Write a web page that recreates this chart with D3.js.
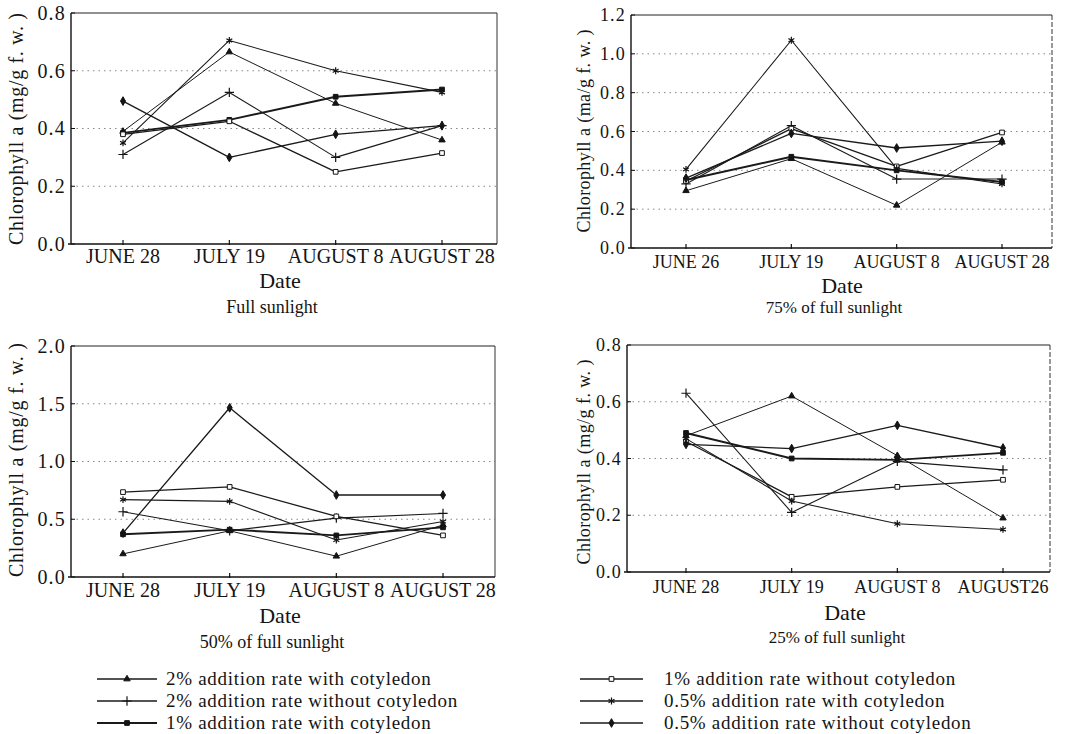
<!DOCTYPE html>
<html>
<head>
<meta charset="utf-8">
<script src="https://cdn.jsdelivr.net/npm/d3@7"></script>
<style>
  body { margin: 0; background: #fff; }
  svg { display: block; background: #fff; }
  text { font-family: "Liberation Serif", "Times New Roman", serif; fill: #141414; }
</style>
</head>
<body>
<svg id="chart" width="1083" height="734"></svg>
<script>
// ---- data -------------------------------------------------------------
const seriesLabels = [
  "2% addition rate with cotyledon",
  "2% addition rate without cotyledon",
  "1% addition rate with cotyledon",
  "1% addition rate without cotyledon",
  "0.5% addition rate with cotyledon",
  "0.5% addition rate without cotyledon"
];

const datesFull = ["JUNE 28", "JULY 19", "AUGUST 8", "AUGUST 28"];
const dates75   = ["JUNE 26", "JULY 19", "AUGUST 8", "AUGUST 28"];
const dates50   = ["JUNE 28", "JULY 19", "AUGUST 8", "AUGUST 28"];
const dates25   = ["JUNE 28", "JULY 19", "AUGUST 8", "AUGUST26"];

// chlorophyll a (mg/g f.w.), one row per treatment, in seriesLabels order
const fullSunValues = [
  [0.39, 0.665, 0.487, 0.36],
  [0.31, 0.525, 0.30, 0.41],
  [0.385, 0.43, 0.51, 0.535],
  [0.38, 0.425, 0.25, 0.315],
  [0.35, 0.705, 0.60, 0.525],
  [0.495, 0.30, 0.38, 0.41]
];
const sun75Values = [
  [0.295, 0.46, 0.22, 0.545],
  [0.33, 0.63, 0.355, 0.355],
  [0.35, 0.47, 0.40, 0.34],
  [0.345, 0.615, 0.42, 0.595],
  [0.405, 1.07, 0.41, 0.33],
  [0.36, 0.59, 0.515, 0.55]
];
const sun50Values = [
  [0.20, 0.40, 0.18, 0.45],
  [0.565, 0.40, 0.51, 0.55],
  [0.37, 0.41, 0.36, 0.43],
  [0.735, 0.78, 0.525, 0.36],
  [0.67, 0.655, 0.32, 0.48],
  [0.38, 1.465, 0.71, 0.71]
];
const sun25Values = [
  [0.48, 0.62, 0.41, 0.19],
  [0.63, 0.21, 0.39, 0.36],
  [0.49, 0.40, 0.395, 0.42],
  [0.46, 0.265, 0.30, 0.325],
  [0.47, 0.25, 0.17, 0.15],
  [0.45, 0.435, 0.517, 0.437]
];

const yTicksFull = [0, 0.2, 0.4, 0.6, 0.8];
const yTicks75   = [0, 0.2, 0.4, 0.6, 0.8, 1.0, 1.2];
const yTicks50   = [0, 0.5, 1.0, 1.5, 2.0];
const yTicks25   = [0, 0.2, 0.4, 0.6, 0.8];

const panelTitles = ["Full sunlight", "75% of full sunlight", "50% of full sunlight", "25% of full sunlight"];
const yAxisTitles = [
  "Chlorophyll a (mg/g f. w. )",
  "Chlorophyll a (ma/g f. w. )",
  "Chlorophyll a (mg/g f. w. )",
  "Chlorophyll a (mg/g f. w. )"
];

// ---- layout -----------------------------------------------------------
const svg = d3.select("#chart");

const panels = [
  { dates: datesFull, values: fullSunValues, ticks: yTicksFull,
    box: { x0: 71, x1: 497, y0: 13, y1: 244 }, xr: [123, 442],
    yl: { cx: 17, cy: 129, len: 232, fs: 20 }, fsTick: 20, fsCat: 20, catY: 263, dateY: 288, subY: 313, cx: 280, fsSub: 18, rightDash: false },
  { dates: dates75, values: sun75Values, ticks: yTicks75,
    box: { x0: 631, x1: 1052, y0: 15, y1: 248 }, xr: [686, 1002],
    yl: { cx: 584, cy: 131, len: 203, fs: 18 }, fsTick: 18, fsCat: 18, catY: 268, dateY: 293, subY: 313, cx: 842, fsSub: 17, rightDash: true },
  { dates: dates50, values: sun50Values, ticks: yTicks50,
    box: { x0: 71, x1: 495, y0: 346, y1: 577 }, xr: [123, 443],
    yl: { cx: 17, cy: 460, len: 234, fs: 20 }, fsTick: 20, fsCat: 20, catY: 597, dateY: 623, subY: 648, cx: 280, fsSub: 18, rightDash: false },
  { dates: dates25, values: sun25Values, ticks: yTicks25,
    box: { x0: 627, x1: 1050, y0: 345, y1: 572 }, xr: [686, 1003],
    yl: { cx: 584, cy: 462, len: 205, fs: 18 }, fsTick: 18, fsCat: 18, catY: 593, dateY: 620, subY: 643, cx: 845, fsSub: 17, rightDash: true }
];

// marker + line style per treatment
const markerTypes = [d3.symbolTriangle, d3.symbolPlus, d3.symbolSquare, d3.symbolSquare, d3.symbolAsterisk, d3.symbolDiamond];
const markerFill  = ["#141414", "none", "#141414", "#fff", "none", "#141414"];
const markerSize  = [18, 30, 22, 22, 32, 22];
const lineWidth   = [1.0, 1.1, 1.9, 1.3, 1.1, 1.3];

function drawMarker(g, i, x, y) {
  g.append("path")
    .attr("d", d3.symbol().type(markerTypes[i]).size(markerSize[i])())
    .attr("transform", `translate(${x},${y})`)
    .attr("fill", markerFill[i])
    .attr("stroke", "#141414")
    .attr("stroke-width", markerFill[i] === "none" ? 1.2 : 1);
}

panels.forEach((p, pi) => {
  const g = svg.append("g");
  const b = p.box;
  const x = d3.scalePoint().domain(p.dates).range(p.xr);
  const y = d3.scaleLinear().domain([0, d3.max(p.ticks)]).range([b.y1, b.y0]);

  // dotted grid lines
  g.selectAll(".grid").data(p.ticks.slice(1, -1)).join("line")
    .attr("x1", b.x0).attr("x2", b.x1)
    .attr("y1", d => y(d)).attr("y2", d => y(d))
    .attr("stroke", "#888").attr("stroke-width", 1)
    .attr("stroke-dasharray", "1.5 4");

  // frame
  g.append("line").attr("x1", b.x0).attr("x2", b.x1).attr("y1", b.y0).attr("y2", b.y0)
    .attr("stroke", "#222").attr("stroke-width", 1);
  g.append("line").attr("x1", b.x1).attr("x2", b.x1).attr("y1", b.y0).attr("y2", b.y1)
    .attr("stroke", "#333").attr("stroke-width", 1)
    .attr("stroke-dasharray", p.rightDash ? "5 2" : null);
  g.append("line").attr("x1", b.x0).attr("x2", b.x0).attr("y1", b.y0).attr("y2", b.y1)
    .attr("stroke", "#111").attr("stroke-width", 1.4);
  g.append("line").attr("x1", b.x0 - 3).attr("x2", b.x1).attr("y1", b.y1).attr("y2", b.y1)
    .attr("stroke", "#111").attr("stroke-width", 1.4);

  // y ticks and labels
  p.ticks.forEach(t => {
    g.append("line").attr("x1", b.x0).attr("x2", b.x0 + 4).attr("y1", y(t)).attr("y2", y(t))
      .attr("stroke", "#111").attr("stroke-width", 1);
    g.append("text").attr("x", b.x0 - 5).attr("y", y(t) + p.fsTick * 0.34)
      .attr("text-anchor", "end").attr("font-size", p.fsTick)
      .attr("letter-spacing", 1.2)
      .text(t.toFixed(1));
  });

  // x ticks and category labels
  p.dates.forEach(d => {
    g.append("line").attr("x1", x(d)).attr("x2", x(d)).attr("y1", b.y1 - 4).attr("y2", b.y1 + 1)
      .attr("stroke", "#111").attr("stroke-width", 1.2);
    g.append("text").attr("x", x(d)).attr("y", p.catY)
      .attr("text-anchor", "middle").attr("font-size", p.fsCat)
      .text(d);
  });

  // axis titles
  g.append("text").attr("x", p.cx).attr("y", p.dateY)
    .attr("text-anchor", "middle").attr("font-size", 22).text("Date");
  g.append("text").attr("x", p.cx - 8).attr("y", p.subY)
    .attr("text-anchor", "middle").attr("font-size", p.fsSub).text(panelTitles[pi]);
  g.append("text")
    .attr("transform", `translate(${p.yl.cx + p.yl.fs * 0.32},${p.yl.cy}) rotate(-90)`)
    .attr("text-anchor", "middle").attr("font-size", p.yl.fs)
    .attr("textLength", p.yl.len).attr("lengthAdjust", "spacing")
    .text(yAxisTitles[pi]);

  // series
  const line = d3.line().x((v, k) => x(p.dates[k])).y(v => y(v));
  p.values.forEach((vals, i) => {
    g.append("path").attr("d", line(vals))
      .attr("fill", "none").attr("stroke", "#1a1a1a")
      .attr("stroke-width", lineWidth[i]).attr("stroke-linejoin", "round");
  });
  p.values.forEach((vals, i) => {
    vals.forEach((v, k) => drawMarker(g, i, x(p.dates[k]), y(v)));
  });
});

// ---- legend -----------------------------------------------------------
const legendRows = [679, 701, 723];
const legendCols = [{ x0: 97, x1: 157, tx: 166 }, { x0: 580, x1: 643, tx: 664 }];
const legend = svg.append("g");
seriesLabels.forEach((label, i) => {
  const col = legendCols[Math.floor(i / 3)];
  const yy = legendRows[i % 3];
  legend.append("line").attr("x1", col.x0).attr("x2", col.x1).attr("y1", yy).attr("y2", yy)
    .attr("stroke", "#1a1a1a").attr("stroke-width", Math.max(lineWidth[i], 1.4));
  drawMarker(legend, i, (col.x0 + col.x1) / 2, yy);
  legend.append("text").attr("x", col.tx).attr("y", yy + 5.5)
    .attr("font-size", 19).attr("letter-spacing", 0.7)
    .text(label);
});
</script>
</body>
</html>
